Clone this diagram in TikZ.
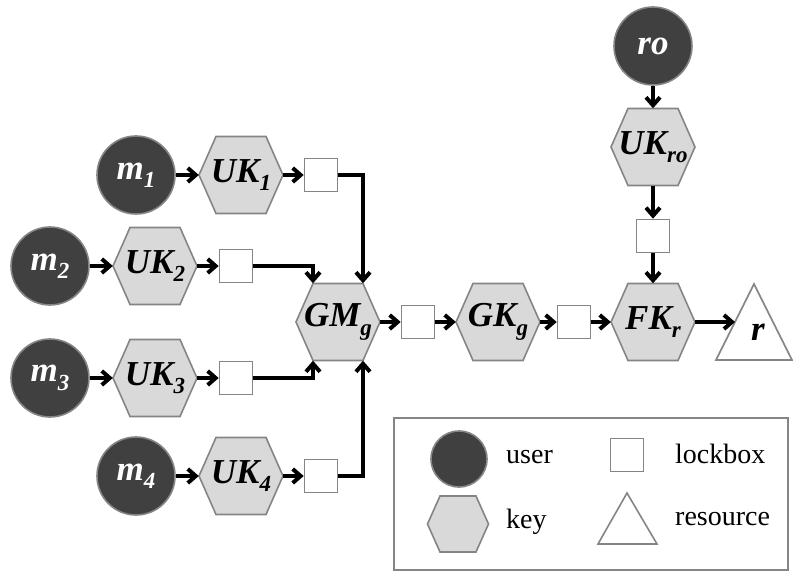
\documentclass[tikz,border=0pt]{standalone}
\usepackage{fontspec}
\setmainfont{Liberation Serif}
\usetikzlibrary{arrows.meta,calc}
\definecolor{userfill}{HTML}{404040}
\definecolor{shapeline}{HTML}{858585}
\definecolor{keyfill}{HTML}{D9D9D9}
\newcommand{\lsub}[1]{\raisebox{-0.24em}{\fontsize{23}{23}\selectfont #1}}
% main key hexagon: name, x, y, text
\newcommand{\keyhex}[4]{%
  \draw[keyshape, shift={(#2,#3)}] (-42,0) -- (-25,-38.5) -- (25,-38.5) -- (42,0) -- (25,38.5) -- (-25,38.5) -- cycle;
  \node[keytext] (#1) at (#2,#3) {#4};
}
\begin{document}
\begin{tikzpicture}[x=1pt,y=-1pt,
  lbl/.style={font=\fontsize{35}{35}\selectfont\bfseries\itshape},
  user/.style={circle, fill=userfill, draw=shapeline, line width=1.6pt, minimum size=78pt, inner sep=0pt, text=white, lbl},
  keyshape/.style={fill=keyfill, draw=shapeline, line width=1.6pt, line join=miter},
  keytext/.style={rectangle, minimum width=84pt, minimum height=77pt, inner sep=0pt, lbl},
  lockbox/.style={rectangle, fill=white, draw=shapeline, line width=1.6pt, minimum size=33pt, inner sep=0pt},
  resshape/.style={fill=white, draw=shapeline, line width=1.6pt, line join=miter},
  arr/.style={line width=3.8pt, -{Straight Barb[length=8pt,width=14pt,line width=4pt]}},
  legtext/.style={anchor=base west, inner sep=0pt, font=\fontsize{28}{28}\selectfont},
]
\useasboundingbox (0,0) rectangle (793,572);

% users
\node[user] (m1) at (136,175) {m\lsub{1}};
\node[user] (m2) at (50,266) {m\lsub{2}};
\node[user] (m3) at (50,378) {m\lsub{3}};
\node[user] (m4) at (136,476) {m\lsub{4}};
\node[user] (ro) at (653,46) {ro};

% keys
\keyhex{uk1}{241}{175}{UK\lsub{1}}
\keyhex{uk2}{155}{266}{UK\lsub{2}}
\keyhex{uk3}{155}{378}{UK\lsub{3}}
\keyhex{uk4}{241}{476}{UK\lsub{4}}
\keyhex{gm}{338}{322}{GM\lsub{g}}
\keyhex{gk}{498}{322}{GK\lsub{g}}
\keyhex{fk}{653}{322}{FK\lsub{r}}
\keyhex{ukro}{653}{147}{UK\lsub{ro}}

% lockboxes
\node[lockbox] (lb1) at (321,175) {};
\node[lockbox] (lb2) at (236,266) {};
\node[lockbox] (lb3) at (236,378) {};
\node[lockbox] (lb4) at (321,476) {};
\node[lockbox] (lbgm) at (418,322) {};
\node[lockbox] (lbgk) at (574,322) {};
\node[lockbox] (lbro) at (653,236) {};

% resource
\draw[resshape] (754,284) -- (792,360) -- (716,360) -- cycle;
\node[lbl, inner sep=0pt] (r) at (758,332) {r};
\coordinate (rin) at (735,322);

% connectors
\draw[arr] (m1) -- (uk1);
\draw[arr] (m2) -- (uk2);
\draw[arr] (m3) -- (uk3);
\draw[arr] (m4) -- (uk4);
\draw[arr] (uk1) -- (lb1);
\draw[arr] (uk2) -- (lb2);
\draw[arr] (uk3) -- (lb3);
\draw[arr] (uk4) -- (lb4);
\draw[arr] (lb1.east) -| ([xshift=25pt]gm.north);
\draw[arr] (lb2.east) -| ([xshift=-25pt]gm.north);
\draw[arr] (lb3.east) -| ([xshift=-25pt]gm.south);
\draw[arr] (lb4.east) -| ([xshift=25pt]gm.south);
\draw[arr] (gm) -- (lbgm);
\draw[arr] (lbgm) -- (gk);
\draw[arr] (gk) -- (lbgk);
\draw[arr] (lbgk) -- (fk);
\draw[arr] (ro) -- (ukro);
\draw[arr] (ukro) -- (lbro);
\draw[arr] (lbro) -- (fk);
\draw[arr] (fk.east) -- (rin);

% legend
\node[rectangle, draw=shapeline, line width=1.6pt, fill=white, minimum width=394pt, minimum height=152pt, inner sep=0pt] (legend) at (591,494) {};
\node[user, minimum size=56pt] (luser) at (459,459) {};
\node[legtext] (tuser) at (506,463) {user};
\node[lockbox] (llock) at (627,455) {};
\node[legtext] (tlock) at (675,463) {lockbox};
\draw[keyshape, shift={(458,524)}] (-30.5,0) -- (-18,-28) -- (18,-28) -- (30.5,0) -- (18,28) -- (-18,28) -- cycle;
\node[inner sep=0pt, minimum width=61pt, minimum height=56pt] (lkey) at (458,524) {};
\node[legtext] (tkey) at (506,528) {key};
\draw[resshape] (627,493) -- (657,544) -- (598,544) -- cycle;
\node[inner sep=0pt] (lres) at (627,527) {};
\node[legtext] (tres) at (675,525) {resource};
\end{tikzpicture}
\end{document}
